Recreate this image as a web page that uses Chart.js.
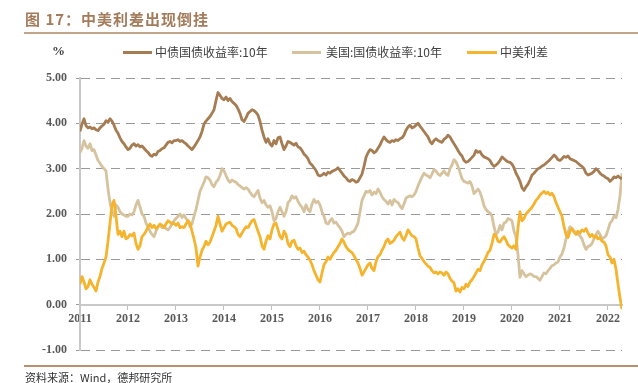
<!DOCTYPE html>
<html><head><meta charset="utf-8">
<script src="https://cdn.jsdelivr.net/npm/chart.js@4/dist/chart.umd.min.js"></script>
<style>
html,body{margin:0;padding:0;background:#fff;}
#wrap{position:relative;width:638px;height:383px;overflow:hidden;}
#c{position:absolute;left:0;top:0;}
.title{position:absolute;left:25px;top:8px;font:bold 15px "Noto Sans CJK SC";color:#a47c5b;letter-spacing:1px;white-space:nowrap;}
.hr{position:absolute;left:24px;width:614px;background:#c4a489;}
.pct{position:absolute;left:52px;top:43px;font:bold 13px "Liberation Serif";color:#404040;}
.lg{position:absolute;top:44px;font:12px "Noto Sans CJK SC";color:#404040;white-space:nowrap;line-height:16px;}
.sw{position:absolute;top:51px;height:3px;}
.src{position:absolute;left:25px;top:369px;font:11px "Noto Sans CJK SC";color:#333;white-space:nowrap;}
</style></head>
<body><div id="wrap">
<canvas id="c" width="638" height="383"></canvas>
<div class="title">图 17：中美利差出现倒挂</div>
<div class="hr" style="top:32px;height:2px;"></div>
<div class="pct">%</div>
<div class="sw" style="left:123px;width:29px;background:#a67c52"></div>
<div class="lg" style="left:155px">中债国债收益率:10年</div>
<div class="sw" style="left:292px;width:29px;background:#d6c39e"></div>
<div class="lg" style="left:326px">美国:国债收益率:10年</div>
<div class="sw" style="left:467px;width:30px;background:#f4b42d"></div>
<div class="lg" style="left:500px">中美利差</div>
<div class="hr" style="top:365px;height:1.5px;background:#b8906e"></div>
<div class="src">资料来源：Wind，德邦研究所</div>
</div>
<script>
// semi-monthly observations, Jan 2011 .. Apr 2022
const startYear = 2011;
const stepsPerYear = 24;
const yearTicks = [2011,2012,2013,2014,2015,2016,2017,2018,2019,2020,2021,2022];
const yTicks = [-1,0,1,2,3,4,5];

const chinaYield = [
3.82,3.98,4.10,3.95,3.90,3.92,3.88,3.90,3.86,3.84,3.90,3.94,3.98,4.06,4.02,4.10,4.05,3.96,3.85,3.78,3.68,3.60,3.55,3.48,
3.42,3.45,3.52,3.55,3.50,3.53,3.48,3.50,3.45,3.40,3.36,3.30,3.27,3.32,3.30,3.38,3.40,3.44,3.46,3.52,3.58,3.60,3.57,3.62,
3.62,3.64,3.60,3.62,3.58,3.55,3.50,3.46,3.42,3.48,3.55,3.62,3.70,3.82,3.98,4.05,4.10,4.15,4.22,4.30,4.50,4.68,4.62,4.55,
4.52,4.58,4.50,4.55,4.48,4.44,4.40,4.32,4.22,4.08,4.04,4.12,4.22,4.26,4.30,4.28,4.24,4.18,4.04,3.85,3.70,3.58,3.66,3.55,
3.50,3.62,3.55,3.68,3.70,3.55,3.42,3.50,3.60,3.58,3.55,3.52,3.56,3.48,3.46,3.40,3.32,3.28,3.22,3.12,3.08,3.02,2.96,2.86,
2.84,2.86,2.90,2.86,2.92,2.90,2.94,2.96,2.98,3.02,2.96,2.90,2.84,2.80,2.74,2.72,2.76,2.74,2.70,2.72,2.80,2.88,3.05,3.25,
3.35,3.42,3.40,3.35,3.38,3.45,3.52,3.62,3.70,3.64,3.60,3.58,3.62,3.60,3.64,3.62,3.66,3.68,3.74,3.85,3.92,3.96,3.90,3.92,
3.96,4.00,3.94,3.88,3.82,3.76,3.70,3.60,3.55,3.62,3.66,3.62,3.60,3.58,3.65,3.68,3.74,3.70,3.62,3.55,3.48,3.40,3.33,3.28,
3.18,3.14,3.16,3.20,3.25,3.30,3.40,3.36,3.38,3.30,3.26,3.24,3.22,3.18,3.10,3.05,3.08,3.12,3.18,3.26,3.22,3.18,3.15,3.14,
3.10,3.02,2.90,2.82,2.72,2.58,2.52,2.60,2.66,2.75,2.86,2.90,2.95,3.00,3.02,3.06,3.08,3.12,3.16,3.20,3.25,3.30,3.26,3.20,
3.18,3.22,3.27,3.25,3.28,3.22,3.20,3.18,3.16,3.12,3.08,3.05,3.00,2.90,2.86,2.88,2.90,2.94,3.00,2.96,2.90,2.86,2.84,2.80,
2.78,2.72,2.76,2.82,2.80,2.84,2.80,2.78
];

const usYield = [
3.35,3.45,3.62,3.50,3.45,3.55,3.40,3.42,3.30,3.18,3.12,3.05,3.00,2.95,2.55,2.25,2.05,1.95,2.20,2.15,2.05,2.00,1.98,1.95,
1.95,2.00,1.98,2.05,2.20,2.30,2.15,2.00,1.95,1.80,1.72,1.62,1.55,1.50,1.62,1.72,1.75,1.70,1.72,1.68,1.65,1.70,1.78,1.85,
1.90,1.95,2.00,1.92,1.98,1.90,1.85,1.72,1.78,1.95,2.10,2.30,2.50,2.60,2.70,2.82,2.80,2.75,2.65,2.60,2.70,2.75,2.85,3.00,
2.95,2.85,2.75,2.70,2.75,2.72,2.70,2.65,2.62,2.58,2.55,2.58,2.55,2.48,2.42,2.38,2.45,2.52,2.35,2.25,2.30,2.20,2.15,2.18,
2.05,1.85,1.90,2.05,2.15,2.05,1.95,2.05,2.25,2.30,2.40,2.35,2.38,2.28,2.20,2.15,2.05,2.20,2.10,2.05,2.22,2.32,2.25,2.28,
2.20,2.05,1.95,1.80,1.78,1.85,1.90,1.80,1.82,1.75,1.70,1.62,1.50,1.55,1.58,1.56,1.60,1.62,1.70,1.80,2.05,2.30,2.40,2.50,
2.48,2.52,2.42,2.48,2.45,2.55,2.48,2.38,2.32,2.28,2.22,2.30,2.20,2.32,2.28,2.25,2.18,2.12,2.22,2.35,2.38,2.40,2.38,2.42,
2.50,2.62,2.72,2.82,2.90,2.86,2.84,2.80,2.88,2.98,2.95,2.88,2.85,2.90,2.95,2.88,2.85,3.00,3.08,3.20,3.15,3.05,2.92,2.78,
2.72,2.70,2.68,2.72,2.62,2.45,2.50,2.55,2.48,2.35,2.18,2.10,2.05,2.02,1.95,1.72,1.55,1.60,1.75,1.65,1.80,1.82,1.90,1.88,
1.85,1.62,1.50,1.10,0.60,0.75,0.68,0.62,0.65,0.68,0.66,0.62,0.62,0.58,0.54,0.62,0.70,0.68,0.75,0.80,0.86,0.88,0.92,0.94,
1.05,1.12,1.25,1.45,1.60,1.72,1.68,1.62,1.60,1.55,1.52,1.45,1.32,1.22,1.28,1.30,1.35,1.45,1.55,1.62,1.55,1.45,1.48,1.52,
1.65,1.80,1.85,1.95,1.92,2.10,2.40,2.90
];

const spread = [
0.45,0.62,0.50,0.35,0.40,0.55,0.45,0.38,0.30,0.50,0.62,0.80,0.92,1.05,1.40,1.80,2.20,2.30,1.95,1.55,1.62,1.50,1.62,1.45,
1.48,1.55,1.52,1.58,1.35,1.22,1.30,1.50,1.55,1.62,1.72,1.78,1.70,1.75,1.68,1.72,1.78,1.75,1.70,1.78,1.85,1.82,1.78,1.80,
1.75,1.80,1.70,1.72,1.70,1.78,1.85,1.80,1.62,1.45,1.25,0.85,1.05,1.20,1.28,1.40,1.32,1.38,1.50,1.62,1.75,1.95,1.78,1.62,
1.70,1.78,1.80,1.82,1.75,1.72,1.68,1.55,1.50,1.58,1.65,1.72,1.70,1.78,1.85,1.88,1.75,1.62,1.50,1.30,1.22,1.40,1.52,1.45,
1.65,1.78,1.80,1.65,1.50,1.45,1.62,1.55,1.35,1.28,1.40,1.42,1.30,1.22,1.25,1.15,1.18,1.10,1.05,0.98,0.88,0.75,0.65,0.55,
0.50,0.70,0.88,0.95,1.05,1.00,1.08,1.15,1.20,1.28,1.35,1.45,1.38,1.28,1.22,1.18,1.15,1.08,1.00,0.92,0.80,0.65,0.72,0.80,
0.88,0.92,0.80,0.75,0.95,1.06,1.10,1.20,1.28,1.40,1.45,1.35,1.38,1.42,1.50,1.55,1.60,1.48,1.42,1.52,1.65,1.58,1.52,1.50,
1.45,1.25,1.08,1.02,0.95,0.90,0.85,0.82,0.75,0.70,0.72,0.68,0.72,0.70,0.65,0.72,0.68,0.58,0.52,0.48,0.30,0.35,0.28,0.38,
0.35,0.45,0.40,0.50,0.55,0.62,0.70,0.78,0.75,0.88,0.95,1.05,1.15,1.20,1.35,1.55,1.52,1.40,1.38,1.45,1.50,1.42,1.32,1.28,
1.25,1.30,1.22,1.70,2.05,1.85,1.90,2.00,2.05,2.10,2.15,2.22,2.30,2.35,2.42,2.46,2.50,2.45,2.48,2.42,2.46,2.38,2.25,2.15,
2.05,1.95,1.72,1.55,1.48,1.62,1.68,1.60,1.55,1.62,1.58,1.65,1.62,1.68,1.58,1.50,1.55,1.48,1.52,1.45,1.48,1.40,1.38,1.30,
1.10,1.05,0.92,1.00,0.78,0.45,0.15,-0.10
];

const seriesNames = ['中债国债收益率:10年','美国:国债收益率:10年','中美利差'];
const seriesColors = ['#a67c52','#d6c39e','#f4b42d'];

function toPoints(arr){ return arr.map((v,i)=>({x: startYear + i/stepsPerYear, y: v})); }
const lastX = startYear + (chinaYield.length-1)/stepsPerYear;

const tickFont = {family:'"Liberation Serif"', size:12, weight:'bold'};
new Chart(document.getElementById('c'), {
  type:'line',
  data:{datasets:[
    {label:seriesNames[0], data:toPoints(chinaYield), borderColor:seriesColors[0], order:1},
    {label:seriesNames[1], data:toPoints(usYield), borderColor:seriesColors[1], order:2},
    {label:seriesNames[2], data:toPoints(spread), borderColor:seriesColors[2], order:0}
  ]},
  options:{
    responsive:false, animation:false, devicePixelRatio:1,
    layout:{padding:{left:0,right:16,top:78,bottom:33}},
    plugins:{legend:{display:false}, tooltip:{enabled:false}},
    elements:{point:{radius:0}, line:{borderWidth:2.8, tension:0, borderJoinStyle:'round'}},
    scales:{
      x:{type:'linear', position:{y:0}, min:startYear, max:lastX,
        afterBuildTicks: a => { a.ticks = yearTicks.map(v=>({value:v})); },
        ticks:{font:tickFont, color:'#595959', padding:3, maxRotation:0, autoSkip:false, callback:v=>String(v)},
        grid:{drawOnChartArea:false, drawTicks:true, tickLength:4, color:'#bfbfbf', lineWidth:1},
        border:{color:'#c8c8c8', width:2}
      },
      y:{min:-1, max:5,
        afterBuildTicks: a => { a.ticks = yTicks.map(v=>({value:v})); },
        afterFit: a => { a.width = 80; },
        ticks:{font:tickFont, color:'#595959', padding:9, callback:v=>Number(v).toFixed(2)},
        grid:{color:'#9a9a9a', lineWidth:1, tickLength:4},
        border:{dash:[9,6], color:'#c8c8c8', width:2}
      }
    }
  }
});
</script>
</body></html>
